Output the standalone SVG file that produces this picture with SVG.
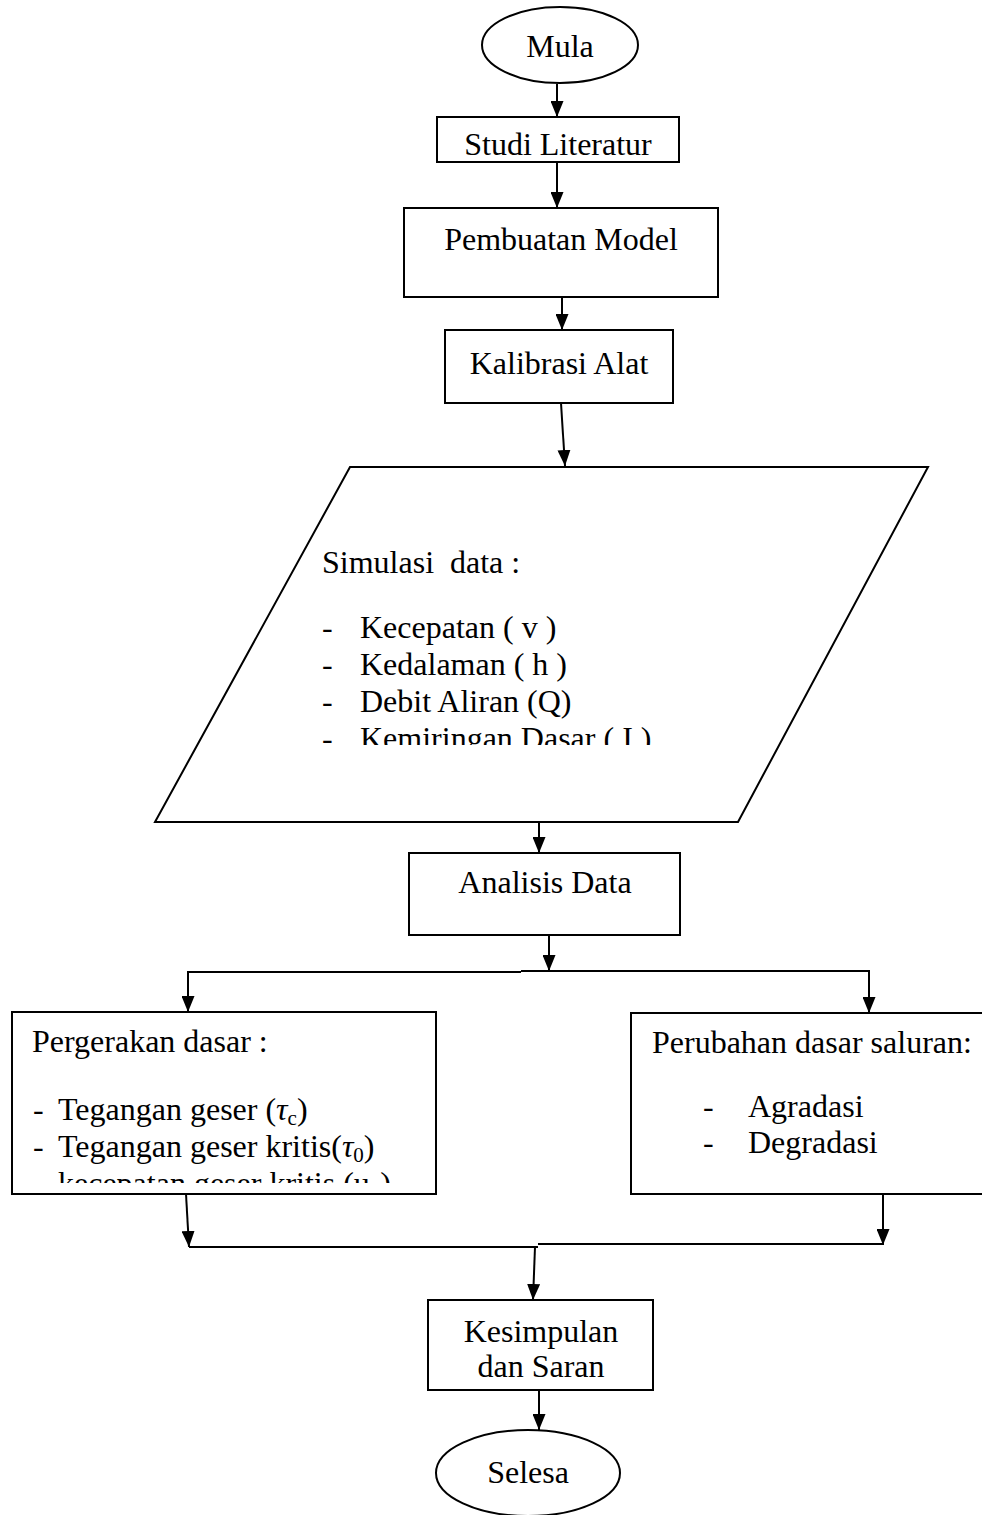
<svg xmlns="http://www.w3.org/2000/svg" width="982" height="1515" viewBox="0 0 982 1515">
<style>
.s{fill:#fff;stroke:#000;stroke-width:2}
.t{font-family:"Liberation Serif","Times New Roman",serif;font-size:32px;fill:#000}
.c{text-anchor:middle}
.ln{fill:none;stroke:#000;stroke-width:2}
.g{font-style:italic}
.sub{font-size:21px}
</style>
<defs>
<marker id="ah" markerUnits="userSpaceOnUse" viewBox="0 0 16 13" refX="16" refY="6.5" markerWidth="16" markerHeight="13" orient="auto">
<path d="M0,0 L16,6.5 L0,13 z" fill="#000"/>
</marker>
<clipPath id="cpPar"><rect x="150" y="467" width="800" height="278"/></clipPath>
<clipPath id="cpLeft"><rect x="12" y="1012" width="424" height="171"/></clipPath>
</defs>
<rect width="982" height="1515" fill="#fff"/>

<g id="connectors">
<line class="ln" x1="557" y1="84" x2="557" y2="117" marker-end="url(#ah)"/>
<line class="ln" x1="557" y1="162" x2="557" y2="208" marker-end="url(#ah)"/>
<line class="ln" x1="562" y1="297" x2="562" y2="330" marker-end="url(#ah)"/>
<line class="ln" x1="561" y1="403" x2="565" y2="466" marker-end="url(#ah)"/>
<line class="ln" x1="539" y1="822" x2="539" y2="853" marker-end="url(#ah)"/>
<line class="ln" x1="549" y1="935" x2="549" y2="971" marker-end="url(#ah)"/>
<line class="ln" x1="188" y1="972" x2="521" y2="972"/>
<line class="ln" x1="521" y1="971" x2="870" y2="971"/>
<line class="ln" x1="188" y1="971" x2="188" y2="1012" marker-end="url(#ah)"/>
<line class="ln" x1="869" y1="971" x2="869" y2="1013" marker-end="url(#ah)"/>
<line class="ln" x1="186" y1="1194" x2="189" y2="1247" marker-end="url(#ah)"/>
<line class="ln" x1="883" y1="1194" x2="883" y2="1245" marker-end="url(#ah)"/>
<line class="ln" x1="189" y1="1247" x2="538" y2="1247"/>
<line class="ln" x1="538" y1="1244" x2="883" y2="1244"/>
<line class="ln" x1="535" y1="1247" x2="533" y2="1300" marker-end="url(#ah)"/>
<line class="ln" x1="539" y1="1390" x2="539" y2="1430" marker-end="url(#ah)"/>
</g>

<g id="mula">
<ellipse class="s" cx="560" cy="45" rx="78" ry="38"/>
<text class="t c" x="560" y="57">Mula</text>
</g>

<g id="studi">
<rect class="s" x="437" y="117" width="242" height="45"/>
<text class="t c" x="558" y="155">Studi Literatur</text>
</g>

<g id="pembuatan">
<rect class="s" x="404" y="208" width="314" height="89"/>
<text class="t c" x="561" y="250">Pembuatan Model</text>
</g>

<g id="kalibrasi">
<rect class="s" x="445" y="330" width="228" height="73"/>
<text class="t c" x="559" y="374">Kalibrasi Alat</text>
</g>

<g id="simulasi">
<polygon class="s" points="350,467 928,467 738,822 155,822"/>
<g clip-path="url(#cpPar)">
<text class="t" x="322" y="573" xml:space="preserve">Simulasi  data :</text>
<text class="t" x="322" y="638">-</text>
<text class="t" x="360" y="638">Kecepatan ( v )</text>
<text class="t" x="322" y="675">-</text>
<text class="t" x="360" y="675">Kedalaman ( h )</text>
<text class="t" x="322" y="712">-</text>
<text class="t" x="360" y="712">Debit Aliran (Q)</text>
<text class="t" x="322" y="749">-</text>
<text class="t" x="360" y="749">Kemiringan Dasar ( I )</text>
</g>
</g>

<g id="analisis">
<rect class="s" x="409" y="853" width="271" height="82"/>
<text class="t c" x="545" y="893">Analisis Data</text>
</g>

<g id="pergerakan">
<rect class="s" x="12" y="1012" width="424" height="182"/>
<text class="t" x="32" y="1052">Pergerakan dasar :</text>
<g clip-path="url(#cpLeft)">
<text class="t" x="33" y="1120">-</text>
<text class="t" x="58" y="1120">Tegangan geser (<tspan class="g">τ</tspan><tspan class="sub" dy="5">c</tspan><tspan dy="-5">)</tspan></text>
<text class="t" x="33" y="1157">-</text>
<text class="t" x="58" y="1157">Tegangan geser kritis(<tspan class="g">τ</tspan><tspan class="sub" dy="5">0</tspan><tspan dy="-5">)</tspan></text>
<text class="t" x="33" y="1194">-</text>
<text class="t" x="58" y="1194">kecepatan geser kritis (u<tspan class="sub" dy="5">*</tspan><tspan dy="-5">)</tspan></text>
</g>
</g>

<g id="perubahan">
<rect class="s" x="631" y="1013" width="356" height="181"/>
<text class="t" x="652" y="1053">Perubahan dasar saluran:</text>
<text class="t" x="703" y="1117">-</text>
<text class="t" x="748" y="1117">Agradasi</text>
<text class="t" x="703" y="1153">-</text>
<text class="t" x="748" y="1153">Degradasi</text>
</g>

<g id="kesimpulan">
<rect class="s" x="428" y="1300" width="225" height="90"/>
<text class="t c" x="541" y="1342">Kesimpulan</text>
<text class="t c" x="541" y="1377">dan Saran</text>
</g>

<g id="selesa">
<ellipse class="s" cx="528" cy="1473" rx="92" ry="43"/>
<text class="t c" x="528" y="1483">Selesa</text>
</g>
</svg>
